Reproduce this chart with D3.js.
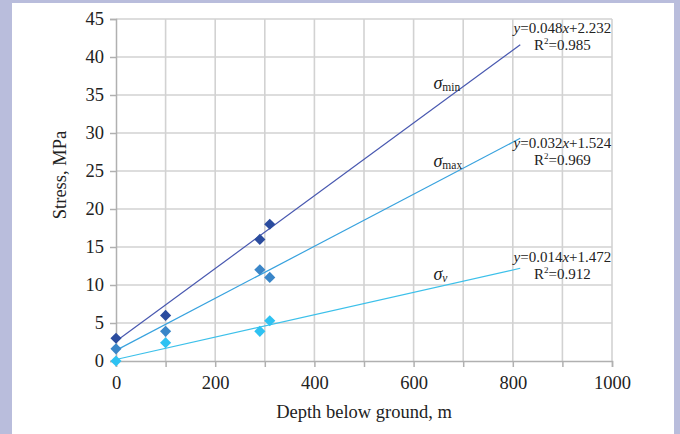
<!DOCTYPE html>
<html>
<head>
<meta charset="utf-8">
<script src="https://cdn.jsdelivr.net/npm/d3@7"></script>
<style>
  body { margin: 0; background: #b9bddc; }
  #chart { position: absolute; left: 12px; top: 3px; width: 662px; height: 431px; background: #fff; }
  text { font-family: "Liberation Serif", "Times New Roman", serif; fill: #222; }
</style>
</head>
<body>
<div id="chart"></div>
<script>
// data
const depths = [0, 100, 290, 310]
const sigmaMin = [3, 6, 16, 18]
const sigmaMax = [1.6, 3.9, 12, 11]
const sigmaV = [0, 2.4, 3.9, 5.3]

// trendlines as drawn (start/end)
const trendX = [0, 815]
const trendMin = [2.6, 41.6]
const trendMax = [1.4, 29.3]
const trendV = [0.2, 12.2]

const eqMin = ['0.048', '2.232', '0.985']
const eqMax = ['0.032', '1.524', '0.969']
const eqV = ['0.014', '1.472', '0.912']

const xTicks = [0, 200, 400, 600, 800, 1000]
const yTicks = [0, 5, 10, 15, 20, 25, 30, 35, 40, 45]

const series = [
  { name: 'min', y: sigmaMin, trend: trendMin, eq: eqMin, marker: '#2b4c9e', line: '#4858b0', lab: [640, 35.8], eqPos: [900, 43.1] },
  { name: 'max', y: sigmaMax, trend: trendMax, eq: eqMax, marker: '#3a86c8', line: '#38a2de', lab: [640, 25.5], eqPos: [900, 28.0] },
  { name: 'v', y: sigmaV, trend: trendV, eq: eqV, marker: '#2ec2f2', line: '#3cc0ea', lab: [640, 10.6], eqPos: [900, 13.0] },
]

// dimensions
let dimensions = {
  width: 662,
  height: 431,
  margin: { top: 16, right: 62, bottom: 73, left: 104 },
}
dimensions.innerWidth = dimensions.width - dimensions.margin.left - dimensions.margin.right
dimensions.innerHeight = dimensions.height - dimensions.margin.top - dimensions.margin.bottom

const outer = d3.select('#chart').append('svg')
  .attr('width', dimensions.width)
  .attr('height', dimensions.height)

const inner = outer.append('g')
  .attr('transform', `translate(${dimensions.margin.left},${dimensions.margin.top})`)

// scales
const xScale = d3.scaleLinear().domain([0, 1000]).range([0, dimensions.innerWidth])
const yScale = d3.scaleLinear().domain([0, 45]).range([dimensions.innerHeight, 0])

// grid
inner.append('g').selectAll('line')
  .data(d3.range(100, 1001, 100))
  .join('line')
  .attr('x1', d => xScale(d)).attr('x2', d => xScale(d))
  .attr('y1', 0).attr('y2', dimensions.innerHeight)
  .attr('stroke', '#d2d2d2').attr('stroke-width', 1.6)

inner.append('g').selectAll('line')
  .data(yTicks.slice(1))
  .join('line')
  .attr('x1', 0).attr('x2', dimensions.innerWidth)
  .attr('y1', d => yScale(d)).attr('y2', d => yScale(d))
  .attr('stroke', '#d2d2d2').attr('stroke-width', 1.6)

// axes
const xAxisGroup = inner.append('g')
  .attr('transform', `translate(0,${dimensions.innerHeight})`)
  .call(d3.axisBottom(xScale).tickValues(d3.range(0, 1001, 100)).tickSize(6)
    .tickFormat(d => xTicks.includes(d) ? d : ''))
xAxisGroup.select('.domain').attr('stroke', '#b0b0b0').attr('stroke-width', 1.5)
xAxisGroup.selectAll('.tick line').attr('stroke', '#b0b0b0').attr('stroke-width', 1.5)
xAxisGroup.selectAll('.tick text').attr('font-size', 18.5).attr('dy', '1.0em')
  .style('font-family', '"Liberation Serif", serif').attr('fill', '#222')

const yAxisGroup = inner.append('g')
  .call(d3.axisLeft(yScale).tickValues(yTicks).tickSize(6).tickPadding(6))
yAxisGroup.select('.domain').attr('stroke', '#b0b0b0').attr('stroke-width', 1.5)
yAxisGroup.selectAll('.tick line').attr('stroke', '#b0b0b0').attr('stroke-width', 1.5)
yAxisGroup.selectAll('.tick text').attr('font-size', 18.5)
  .style('font-family', '"Liberation Serif", serif').attr('fill', '#222')

// axis titles
outer.append('text')
  .attr('x', dimensions.margin.left + dimensions.innerWidth / 2)
  .attr('y', 415)
  .attr('text-anchor', 'middle')
  .attr('font-size', 18.5)
  .text('Depth below ground, m')

outer.append('text')
  .attr('transform', `translate(54,${dimensions.margin.top + dimensions.innerHeight / 2 - 15}) rotate(-90)`)
  .attr('text-anchor', 'middle')
  .attr('font-size', 18.5)
  .text('Stress, MPa')

// trendlines
const line = d3.line().x(d => xScale(d[0])).y(d => yScale(d[1]))
series.forEach(s => {
  inner.append('path')
    .attr('d', line(trendX.map((x, i) => [x, s.trend[i]])))
    .attr('fill', 'none')
    .attr('stroke', s.line)
    .attr('stroke-width', 1.2)
})

// markers (square turned 45deg)
const diamond = d3.symbol().type(d3.symbolSquare).size(62)
series.forEach(s => {
  inner.append('g').selectAll('path')
    .data(depths.map((x, i) => [x, s.y[i]]))
    .join('path')
    .attr('d', diamond)
    .attr('transform', d => `translate(${xScale(d[0])},${yScale(d[1])}) rotate(45)`)
    .attr('fill', s.marker)
})

// sigma labels
series.forEach(s => {
  const t = inner.append('text')
    .attr('x', xScale(s.lab[0]))
    .attr('y', yScale(s.lab[1]))
    .attr('font-size', 18)
  t.append('tspan').attr('font-style', 'italic').text('σ')
  t.append('tspan').attr('font-size', 11.5).attr('dy', 2)
    .attr('font-style', s.name === 'v' ? 'italic' : 'normal').text(s.name)
})

// equations
series.forEach(s => {
  const cx = xScale(s.eqPos[0])
  const cy = yScale(s.eqPos[1])
  const t1 = inner.append('text').attr('x', cx).attr('y', cy)
    .attr('text-anchor', 'middle').attr('font-size', 15)
  t1.append('tspan').attr('font-style', 'italic').text('y')
  t1.append('tspan').text('=' + s.eq[0])
  t1.append('tspan').attr('font-style', 'italic').text('x')
  t1.append('tspan').text('+' + s.eq[1])
  const t2 = inner.append('text').attr('x', cx).attr('y', cy + 17)
    .attr('text-anchor', 'middle').attr('font-size', 15)
  t2.append('tspan').text('R')
  t2.append('tspan').attr('font-size', 9).attr('dy', -6).text('2')
  t2.append('tspan').attr('dy', 6).text('=' + s.eq[2])
})
</script>
</body>
</html>
